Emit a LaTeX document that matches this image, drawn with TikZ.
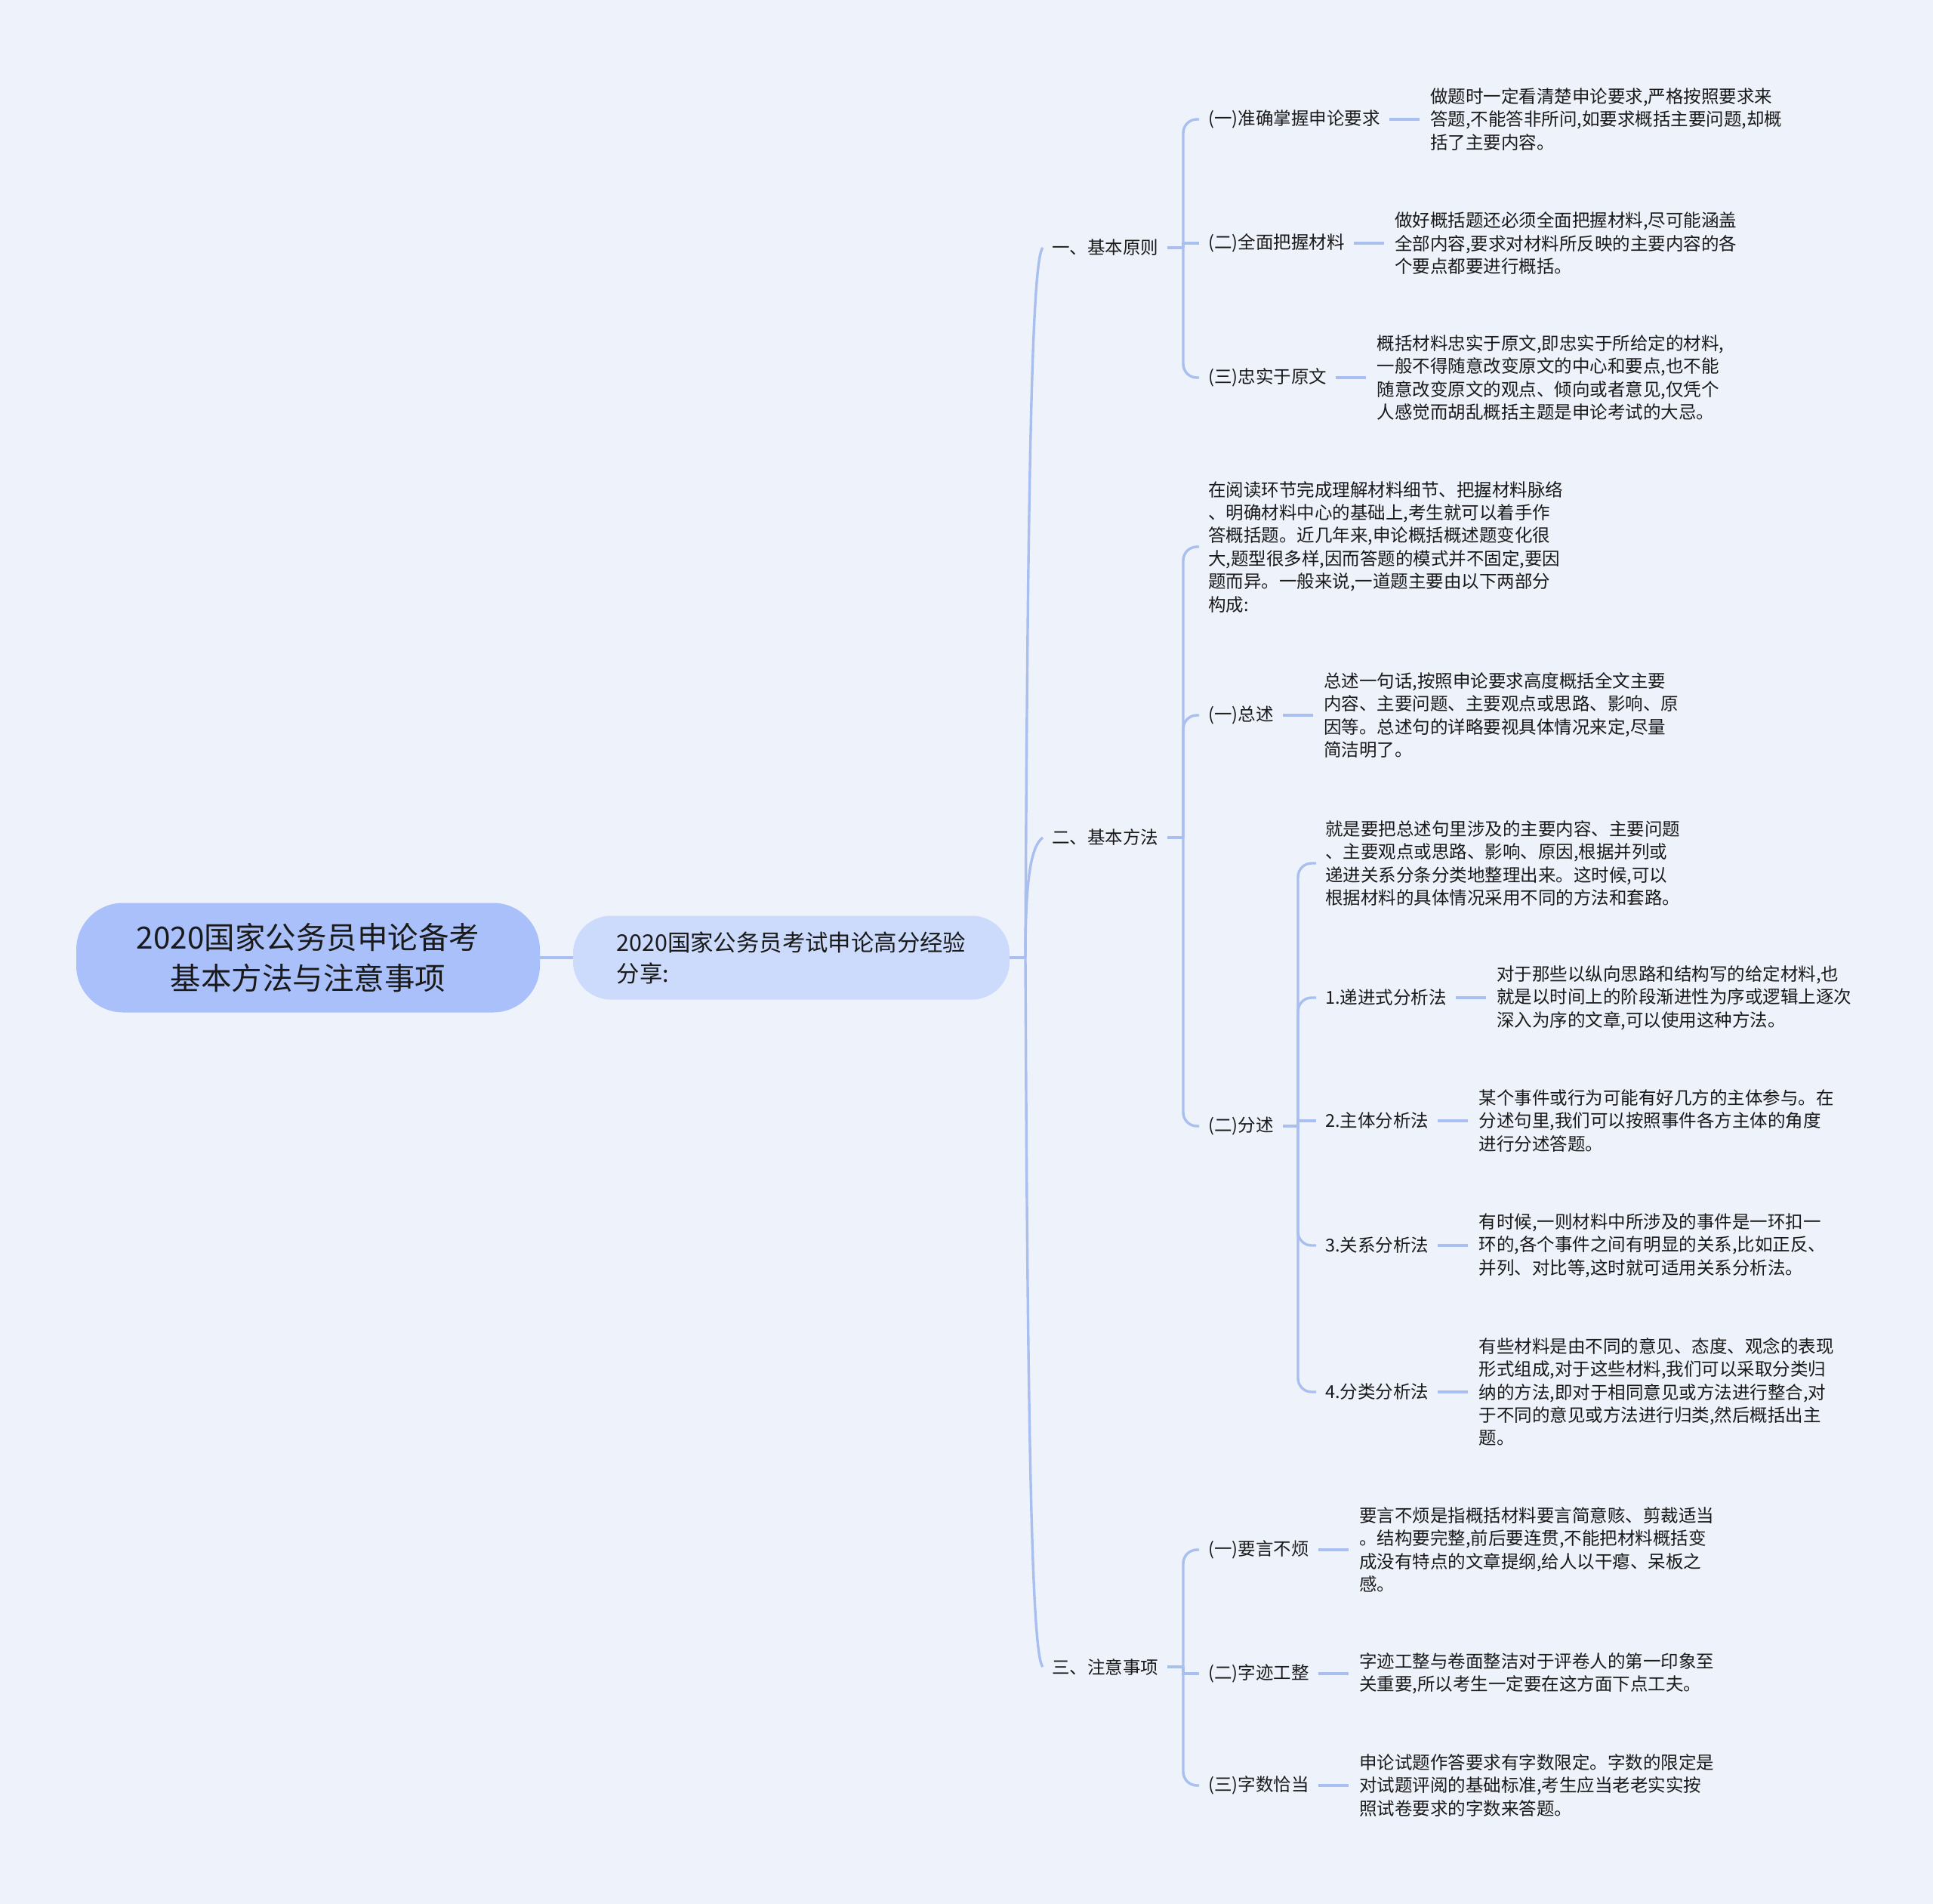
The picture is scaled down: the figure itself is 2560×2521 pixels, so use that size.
\documentclass[tikz,border=0pt]{standalone}
\usepackage{fontspec}
\setmainfont{Noto Sans CJK SC}
\usepackage{tikz}
\usetikzlibrary{positioning}
\definecolor{bgcol}{HTML}{EEF2FB}
\definecolor{rootcol}{HTML}{A9C0FA}
\definecolor{hubcol}{HTML}{CCDBFB}
\definecolor{linecol}{HTML}{A9BFF0}
\definecolor{txtcol}{HTML}{1A1A1A}

\begin{document}
\begin{tikzpicture}[x=1pt, y=-1pt,
  root/.style={fill=rootcol, rounded corners=62pt, minimum width=614pt, minimum height=145pt, align=center, text=txtcol, font=\fontsize{40.5}{54}\selectfont},
  hub/.style={fill=hubcol, rounded corners=50pt, minimum width=578pt, minimum height=111pt, align=left, text=txtcol, font=\fontsize{30.4}{41}\selectfont},
  topic/.style={anchor=west, inner xsep=12pt, align=left, text=txtcol, font=\fontsize{23.5}{30.4}\selectfont},
  leaf/.style={topic, inner xsep=14pt},
  link/.style={draw=linecol, line width=3.4pt},
  elbow/.style={link, rounded corners=18pt}
]
  \path[fill=bgcol, use as bounding box] (0,0) rectangle (2560,2521);

  \node[root] (root) at (408,1268) {2020国家公务员申论备考\\基本方法与注意事项};
  \node[hub] (hub) at (1048,1268) {2020国家公务员考试申论高分经验\\分享:};
  \coordinate (s) at (1358,1268);
  \draw[link] (root) -- (hub);
  \draw[link] (hub.east) -- (s);

  % first level
  \node[topic] (t1) at (1381,328) {一、基本原则};
  \node[topic] (t2) at (1381,1109) {二、基本方法};
  \node[topic] (t3) at (1381,2207) {三、注意事项};
  \draw[link] (s) .. controls (1361,610) and (1367,342) .. (t1.west);
  \draw[link] (s) .. controls (1358,1160) and (1366,1120) .. (t2.west);
  \draw[link] (s) .. controls (1361,1925) and (1367,2193) .. (t3.west);

  \coordinate (j1) at (1567,328);
  \coordinate (j2) at (1567,1109);
  \coordinate (j3) at (1567,2207);
  \coordinate (j22) at (1719,1491);

  % 一、基本原则
  \node[topic] (b11) at (1588,158) {(一)准确掌握申论要求};
  \node[topic] (b12) at (1588,322) {(二)全面把握材料};
  \node[topic] (b13) at (1588,500) {(三)忠实于原文};
  \node[leaf, right=40pt of b11] (l11) {做题时一定看清楚申论要求,严格按照要求来\\答题,不能答非所问,如要求概括主要问题,却概\\括了主要内容。};
  \node[leaf, right=40pt of b12] (l12) {做好概括题还必须全面把握材料,尽可能涵盖\\全部内容,要求对材料所反映的主要内容的各\\个要点都要进行概括。};
  \node[leaf, right=40pt of b13] (l13) {概括材料忠实于原文,即忠实于所给定的材料,\\一般不得随意改变原文的中心和要点,也不能\\随意改变原文的观点、倾向或者意见,仅凭个\\人感觉而胡乱概括主题是申论考试的大忌。};

  % 二、基本方法
  \node[topic] (b20) at (1588,724) {在阅读环节完成理解材料细节、把握材料脉络\\、明确材料中心的基础上,考生就可以着手作\\答概括题。近几年来,申论概括概述题变化很\\大,题型很多样,因而答题的模式并不固定,要因\\题而异。一般来说,一道题主要由以下两部分\\构成:};
  \node[topic] (b21) at (1588,947) {(一)总述};
  \node[topic] (b22) at (1588,1491) {(二)分述};
  \node[leaf, right=40pt of b21] (l21) {总述一句话,按照申论要求高度概括全文主要\\内容、主要问题、主要观点或思路、影响、原\\因等。总述句的详略要视具体情况来定,尽量\\简洁明了。};

  \node[topic] (c0) at (1743,1143) {就是要把总述句里涉及的主要内容、主要问题\\、主要观点或思路、影响、原因,根据并列或\\递进关系分条分类地整理出来。这时候,可以\\根据材料的具体情况采用不同的方法和套路。};
  \node[topic] (c1) at (1743,1321) {1.递进式分析法};
  \node[topic] (c2) at (1743,1484) {2.主体分析法};
  \node[topic] (c3) at (1743,1649) {3.关系分析法};
  \node[topic] (c4) at (1743,1843) {4.分类分析法};
  \node[leaf, right=40pt of c1] (lc1) {对于那些以纵向思路和结构写的给定材料,也\\就是以时间上的阶段渐进性为序或逻辑上逐次\\深入为序的文章,可以使用这种方法。};
  \node[leaf, right=40pt of c2] (lc2) {某个事件或行为可能有好几方的主体参与。在\\分述句里,我们可以按照事件各方主体的角度\\进行分述答题。};
  \node[leaf, right=40pt of c3] (lc3) {有时候,一则材料中所涉及的事件是一环扣一\\环的,各个事件之间有明显的关系,比如正反、\\并列、对比等,这时就可适用关系分析法。};
  \node[leaf, right=40pt of c4] (lc4) {有些材料是由不同的意见、态度、观念的表现\\形式组成,对于这些材料,我们可以采取分类归\\纳的方法,即对于相同意见或方法进行整合,对\\于不同的意见或方法进行归类,然后概括出主\\题。};

  % 三、注意事项
  \node[topic] (b31) at (1588,2052) {(一)要言不烦};
  \node[topic] (b32) at (1588,2216) {(二)字迹工整};
  \node[topic] (b33) at (1588,2364) {(三)字数恰当};
  \node[leaf, right=40pt of b31] (l31) {要言不烦是指概括材料要言简意赅、剪裁适当\\。结构要完整,前后要连贯,不能把材料概括变\\成没有特点的文章提纲,给人以干瘪、呆板之\\感。};
  \node[leaf, right=40pt of b32] (l32) {字迹工整与卷面整洁对于评卷人的第一印象至\\关重要,所以考生一定要在这方面下点工夫。};
  \node[leaf, right=40pt of b33] (l33) {申论试题作答要求有字数限定。字数的限定是\\对试题评阅的基础标准,考生应当老老实实按\\照试卷要求的字数来答题。};

  % brackets
  \draw[link] (t1.east) -- (j1);
  \draw[link] (t2.east) -- (j2);
  \draw[link] (t3.east) -- (j3);
  \draw[link] (b22.east) -- (j22);
  \foreach \n in {b11,b13} \draw[elbow] (j1) |- (\n.west);
  \draw[link] (j1) |- (b12.west);
  \foreach \n in {b20,b21,b22} \draw[elbow] (j2) |- (\n.west);
  \foreach \n in {b31,b33} \draw[elbow] (j3) |- (\n.west);
  \draw[link] (j3) |- (b32.west);
  \foreach \n in {c0,c1,c3,c4} \draw[elbow] (j22) |- (\n.west);
  \draw[link] (j22) |- (c2.west);

  % leaves
  \foreach \a/\b in {b11/l11,b12/l12,b13/l13,b21/l21,c1/lc1,c2/lc2,c3/lc3,c4/lc4,b31/l31,b32/l32,b33/l33}
    \draw[link] (\a.east) -- (\b.west);
\end{tikzpicture}
\end{document}
